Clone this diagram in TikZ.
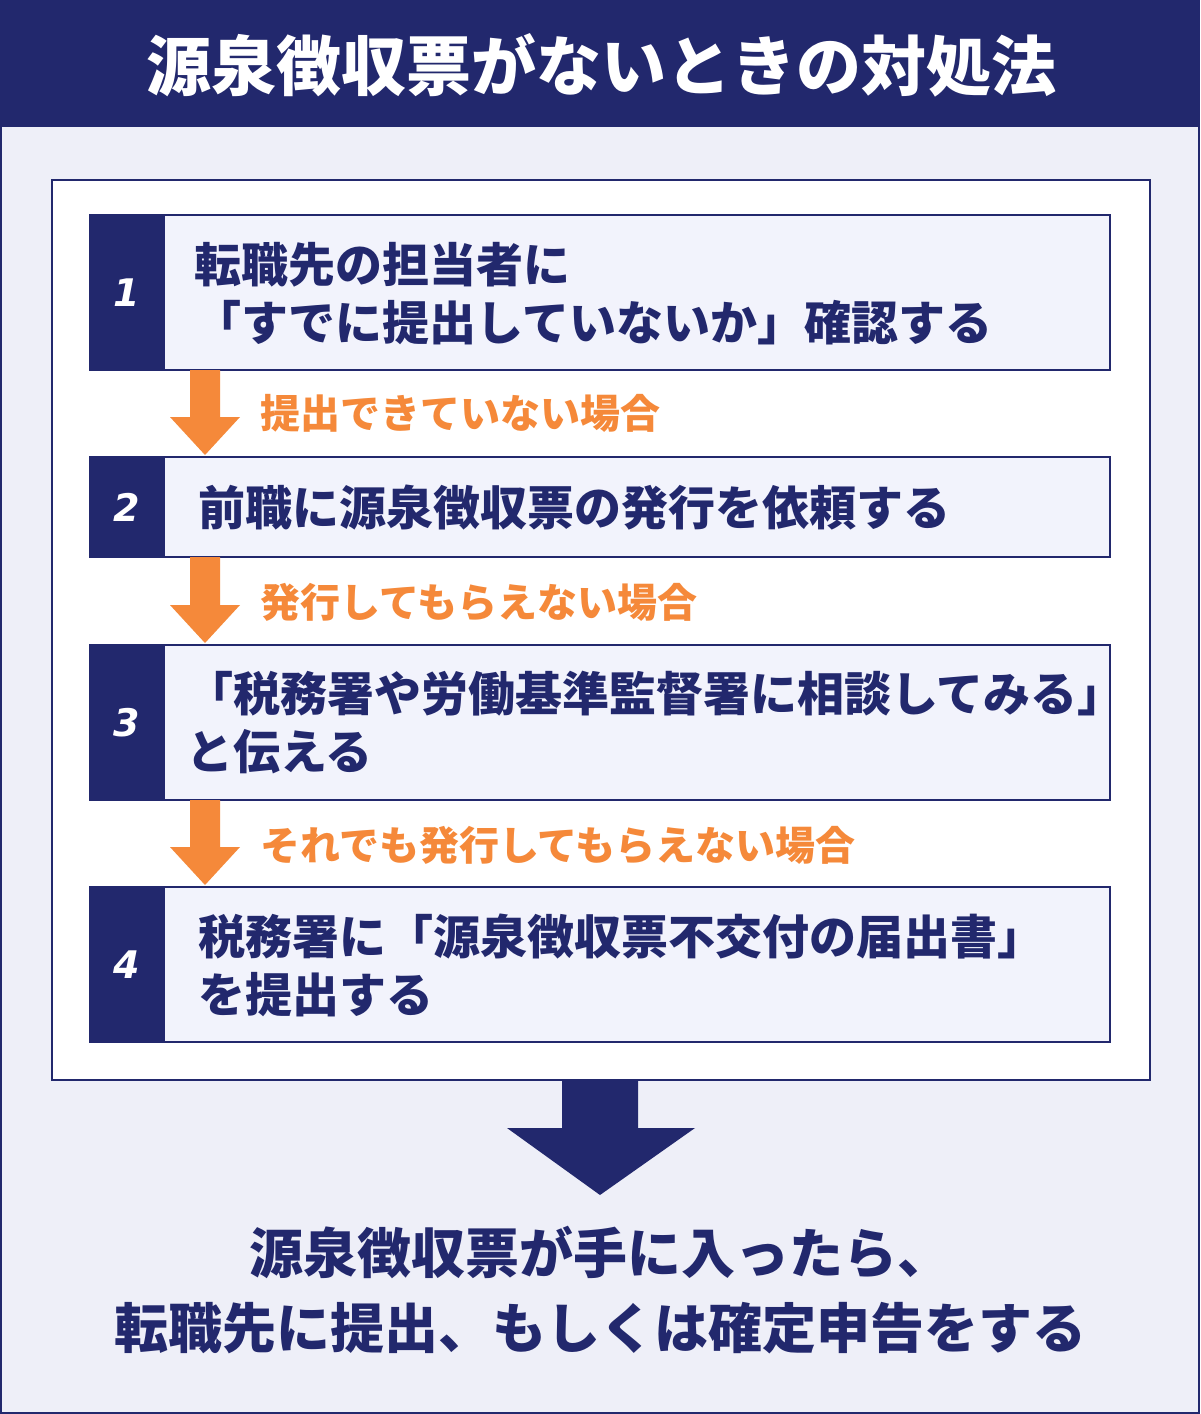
\documentclass[tikz,border=0pt]{standalone}
\usepackage{fontspec}
\newfontfamily\cjk{Noto Sans CJK JP}
\newfontfamily\numfont{DejaVu Sans}
\usetikzlibrary{positioning}
\definecolor{navy}{HTML}{22286D}
\definecolor{flow}{HTML}{F5893A}
\definecolor{pagebg}{HTML}{EEEFF8}
\definecolor{stepbg}{HTML}{F2F3FC}
\tikzset{
  stepbox/.style={draw=navy,line width=1.5pt,fill=stepbg},
  numbox/.style={fill=navy},
  numtext/.style={text=white,font=\numfont\bfseries\itshape\fontsize{38}{38}\selectfont},
  steptext/.style={anchor=west,align=left,text=navy,inner sep=0,font=\cjk\bfseries\fontsize{47}{58}\selectfont},
  flowtext/.style={anchor=west,inner sep=0,text=flow,font=\cjk\bfseries\fontsize{40}{40}\selectfont},
  flowarrow/.style={fill=flow}
}
\begin{document}
\begin{tikzpicture}[x=1pt,y=-1pt]
  \useasboundingbox (0,0) rectangle (1200,1414);
  % page and title
  \fill[pagebg] (0,0) rectangle (1200,1414);
  \draw[navy,line width=2pt] (1,1) rectangle (1199,1413);
  \fill[navy] (0,0) rectangle (1200,127);
  \node[text=white,font=\cjk\bfseries\fontsize{65}{65}\selectfont] (title) at (601,65) {源泉徴収票がないときの対処法};
  \draw[navy,line width=1.5pt,fill=white] (52,180) rectangle (1150,1080);
  % steps
  \foreach \n/\top/\bot in {1/215/370,2/457/557,3/645/800,4/887/1042} {
    \draw[stepbox] (90,\top) rectangle (1110,\bot);
    \fill[numbox] (90,\top) rectangle (165,\bot);
    \node[numtext] (num\n) at (127,{(\top+\bot)/2}) {\n};
  }
  \node[steptext] (s1) at (194,294) {転職先の担当者に\\「すでに提出していないか」確認する};
  \node[steptext] (s2) at (198,508) {前職に源泉徴収票の発行を依頼する};
  \node[steptext] (s3) at (186,723) {「税務署や労働基準監督署に相談してみる」\\と伝える};
  \node[steptext] (s4) at (198,965) {税務署に「源泉徴収票不交付の届出書」\\を提出する};
  % orange arrows
  \foreach \top/\bot in {370/455,557/643,800/885} {
    \fill[flowarrow] (190,\top) -- (220,\top) -- (220,{\bot-38}) -- (240,{\bot-38})
      -- (205,\bot) -- (170,{\bot-38}) -- (190,{\bot-38}) -- cycle;
  }
  \node[flowtext] (f1) at (260,413) {提出できていない場合};
  \node[flowtext] (f2) at (260,602) {発行してもらえない場合};
  \node[flowtext] (f3) at (260,845) {それでも発行してもらえない場合};
  % big arrow and result
  \fill[navy] (562,1080) -- (638,1080) -- (638,1128) -- (695,1128) -- (600,1195)
    -- (507,1128) -- (562,1128) -- cycle;
  \node[text=navy,align=center,font=\cjk\bfseries\fontsize{54}{75}\selectfont] (result) at (600,1290)
    {源泉徴収票が手に入ったら、\\転職先に提出、もしくは確定申告をする};
\end{tikzpicture}
\end{document}
